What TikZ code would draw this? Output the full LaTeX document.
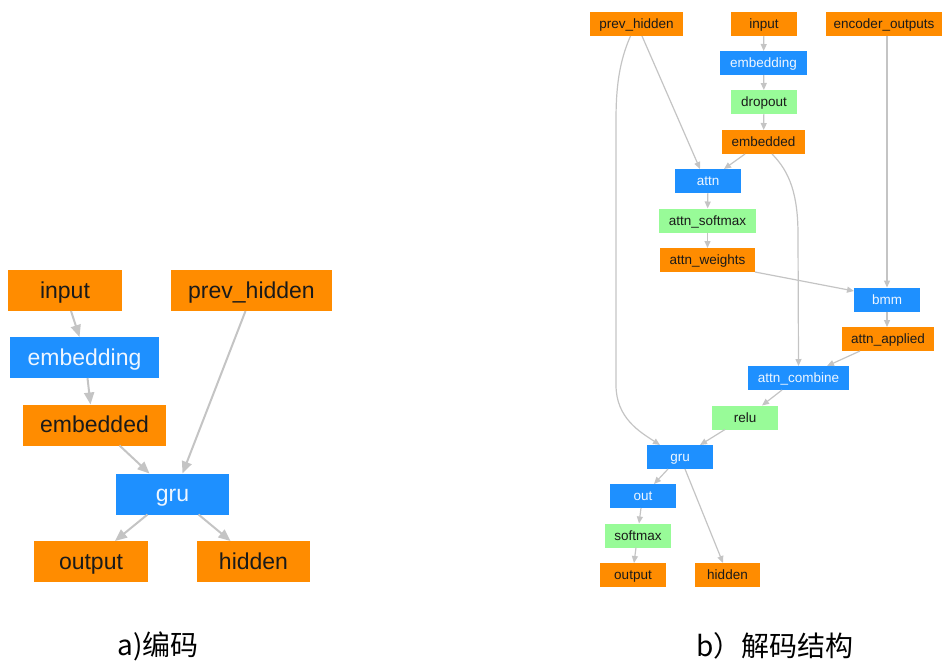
\documentclass[tikz,border=0pt]{standalone}
\usepackage{fontspec}
\setmainfont{Liberation Sans}
\newfontfamily\cjk{Noto Sans CJK SC}
\usetikzlibrary{arrows.meta}
\definecolor{orng}{HTML}{FF8C00}
\definecolor{blu}{HTML}{1E90FF}
\definecolor{grn}{HTML}{98FB98}
\definecolor{edg}{HTML}{C4C4C4}
\definecolor{txtw}{HTML}{EEF6FF}
\definecolor{txtk}{HTML}{1A1A1A}
\tikzset{
  box/.style={inner sep=0pt, outer sep=0pt, anchor=center},
  bigbox/.style={box, minimum height=41pt, text height=19pt, text depth=3.6pt, font=\fontsize{23}{23}\selectfont},
  smallbox/.style={box, minimum height=24pt, text height=11pt, text depth=2pt, font=\fontsize{13.5}{13.5}\selectfont},
  lo/.style={bigbox, fill=orng, text=txtk},
  lb/.style={bigbox, fill=blu, text=txtw},
  ro/.style={smallbox, fill=orng, text=txtk},
  rb/.style={smallbox, fill=blu, text=txtw},
  rg/.style={smallbox, fill=grn, text=txtk},
  bigedge/.style={draw=edg, line width=2pt, -{Triangle[length=12pt,width=10pt]}},
  smalledge/.style={draw=edg, line width=1.2pt, -{Triangle[length=7pt,width=6pt]}},
  captext/.style={font=\cjk\fontsize{28}{28}\selectfont, text=black, inner sep=0pt}
}
\begin{document}
\begin{tikzpicture}[x=1pt,y=-1pt]
\useasboundingbox (0,0) rectangle (944,662);
% ---------- left: encoder ----------
\node[lo, minimum width=114pt] (Linput) at (65,290.5) {input};
\node[lo, minimum width=161pt] (Lprev) at (251.5,290.5) {prev\_hidden};
\node[lb, minimum width=149pt] (Lemb) at (84.5,357.5) {embedding};
\node[lo, minimum width=143pt] (Lembd) at (94.5,425) {embedded};
\node[lb, minimum width=113pt] (Lgru) at (172.5,494) {gru};
\node[lo, minimum width=114pt] (Lout) at (91,561.5) {output};
\node[lo, minimum width=113pt] (Lhid) at (253.5,561.5) {hidden};

\draw[bigedge] ([xshift=6pt]Linput.south) -- ([xshift=-5pt]Lemb.north);
\draw[bigedge] ([xshift=3pt]Lemb.south) -- ([xshift=-4pt]Lembd.north);
\draw[bigedge] ([xshift=25pt]Lembd.south) -- ([xshift=-23pt]Lgru.north);
\draw[bigedge] ([xshift=-6pt]Lprev.south) -- ([xshift=10pt]Lgru.north);
\draw[bigedge] ([xshift=-25pt]Lgru.south) -- ([xshift=24pt]Lout.north);
\draw[bigedge] ([xshift=26pt]Lgru.south) -- ([xshift=-23pt]Lhid.north);

% ---------- right: decoder ----------
\node[ro, minimum width=93pt] (Rprev) at (636.5,24) {prev\_hidden};
\node[ro, minimum width=66pt] (Rinput) at (764,24) {input};
\node[ro, minimum width=116pt] (Renc) at (884,24) {encoder\_outputs};
\node[rb, minimum width=87pt] (Remb) at (763.5,63) {embedding};
\node[rg, minimum width=66pt] (Rdrop) at (764,102) {dropout};
\node[ro, minimum width=83pt] (Rembd) at (763.5,142) {embedded};
\node[rb, minimum width=66pt] (Rattn) at (708,181) {attn};
\node[rg, minimum width=97pt] (Rsoft) at (707.5,220.5) {attn\_softmax};
\node[ro, minimum width=95pt] (Rweights) at (707.5,260) {attn\_weights};
\node[rb, minimum width=66pt] (Rbmm) at (887,299.5) {bmm};
\node[ro, minimum width=92pt] (Rapplied) at (888,339) {attn\_applied};
\node[rb, minimum width=101pt] (Rcomb) at (798.5,378) {attn\_combine};
\node[rg, minimum width=66pt] (Rrelu) at (745,417.5) {relu};
\node[rb, minimum width=66pt] (Rgru) at (680,457) {gru};
\node[rb, minimum width=66pt] (Rout) at (643,496) {out};
\node[rg, minimum width=66pt] (Rsmax) at (638,535.5) {softmax};
\node[ro, minimum width=66pt] (Routput) at (633,575) {output};
\node[ro, minimum width=65pt] (Rhid) at (727.5,575) {hidden};

\draw[smalledge] ([xshift=5.5pt]Rprev.south) -- ([xshift=-8pt]Rattn.north);
\draw[smalledge] ([xshift=-6pt]Rprev.south) .. controls (619,62) and (616,88) .. (616,120)
  -- (616,385) .. controls (616,418) and (640,432) .. ([xshift=-20pt]Rgru.north);
\draw[smalledge] (Rinput) -- (Remb);
\draw[smalledge] (Remb) -- (Rdrop);
\draw[smalledge] (Rdrop) -- (Rembd);
\draw[smalledge] ([xshift=-18.5pt]Rembd.south) -- ([xshift=16pt]Rattn.north);
\draw[smalledge] ([xshift=8.5pt]Rembd.south) .. controls (790,172) and (798,195) .. (798,235)
  -- (Rcomb.north);
\draw[smalledge] (Renc.south -| Rbmm.north) -- (Rbmm.north);
\draw[smalledge] (Rattn) -- (Rsoft);
\draw[smalledge] (Rsoft) -- (Rweights);
\draw[smalledge] (Rweights.south east) -- ([yshift=8.5pt]Rbmm.west);
\draw[smalledge] (Rbmm.south) -- (Rbmm.south |- Rapplied.north);
\draw[smalledge] ([xshift=-28pt]Rapplied.south) -- ([xshift=28.5pt]Rcomb.north);
\draw[smalledge] ([xshift=-16.5pt]Rcomb.south) -- ([xshift=17pt]Rrelu.north);
\draw[smalledge] ([xshift=-20pt]Rrelu.south) -- ([xshift=20pt]Rgru.north);
\draw[smalledge] ([xshift=-12pt]Rgru.south) -- ([xshift=11pt]Rout.north);
\draw[smalledge] ([xshift=5pt]Rgru.south) -- ([xshift=-4.5pt]Rhid.north);
\draw[smalledge] ([xshift=-2pt]Rout.south) -- ([xshift=1pt]Rsmax.north);
\draw[smalledge] ([xshift=-2pt]Rsmax.south) -- ([xshift=1pt]Routput.north);

% ---------- captions ----------
\node[captext] (capa) at (158,646) {a)编码};
\node[captext] (capb) at (775,646) {b）解码结构};
\end{tikzpicture}
\end{document}
